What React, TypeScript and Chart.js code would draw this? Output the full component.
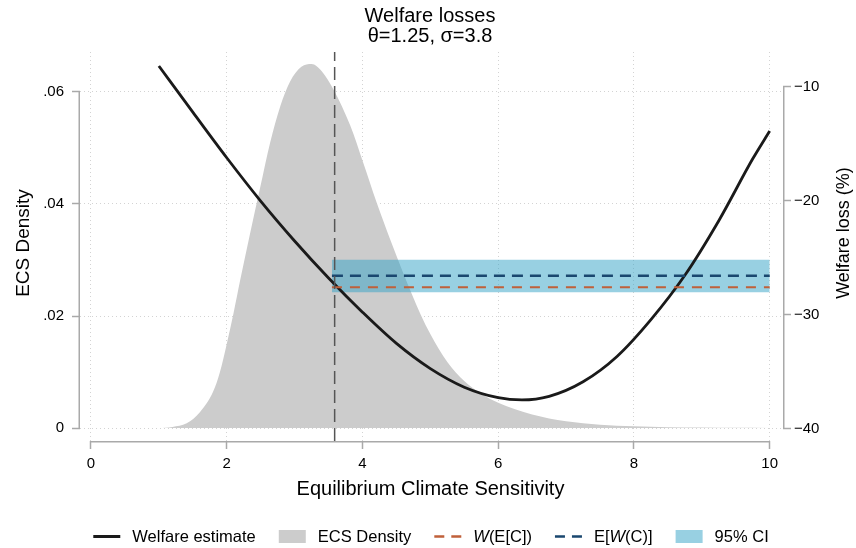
import React, { useEffect, useRef } from "react";
import { Chart, registerables } from "chart.js";

Chart.register(...registerables);

// ---------- data ----------
const densityX = [1.0, 1.2, 1.41, 1.61, 1.8, 1.9, 2.0, 2.1, 2.2, 2.34, 2.49, 2.64, 2.79, 2.93, 3.1, 3.25, 3.4, 3.57, 3.82, 4.01, 4.21, 4.41, 4.6, 4.86, 5.0, 5.25, 5.5, 5.75, 6.0, 6.5, 7.0, 7.5, 8.0, 8.5, 9.0, 9.5, 10.0];
const densityY = [0, 0.0002, 0.00084, 0.0029, 0.0065, 0.01, 0.015, 0.0205, 0.0265, 0.0345, 0.0428, 0.051, 0.0575, 0.0618, 0.0645, 0.065, 0.0637, 0.0605, 0.054, 0.0474, 0.0402, 0.0336, 0.0277, 0.0202, 0.0168, 0.0118, 0.0084, 0.0061, 0.0045, 0.0024, 0.0012, 0.0006, 0.0003, 0.00015, 0.00007, 0.00003, 0.00001];

const welfareX = [1.0, 1.5, 2.0, 2.5, 3.0, 3.5, 4.0, 4.5, 5.0, 5.5, 6.0, 6.35, 6.75, 7.25, 7.75, 8.25, 8.75, 9.25, 9.75, 10.0];
const welfareY = [-8.2, -12.25, -16.25, -20.05, -23.55, -26.8, -29.8, -32.54, -34.75, -36.38, -37.3, -37.5, -37.18, -35.9, -33.68, -30.45, -26.56, -21.77, -16.34, -13.9];

const ciRangeX = [3.55, 10];
const ciUpper = [-25.2, -25.2];
const ciLower = [-28.05, -28.05];
const wOfExpected = [-27.6, -27.6]; // W(E[C])
const expectedOfW = [-26.6, -26.6]; // E[W(C)]
const ecsMean = 3.59;

const xTicks = [0, 2, 4, 6, 8, 10];
const leftTicks = [0, 0.02, 0.04, 0.06];
const rightTicks = [-40, -30, -20, -10];
const xRange = [-0.162, 10.196];
const leftRange = [-0.00232, 0.06714];
const rightRange = [-41.1, -6.97];

const titleLines = ["Welfare losses", "θ=1.25, σ=3.8"];
const xTitle = "Equilibrium Climate Sensitivity";
const leftTitle = "ECS Density";
const rightTitle = "Welfare loss (%)";

// ---------- styles ----------
const FONT = "'Liberation Sans', Arial, Helvetica, sans-serif";
const AXIS_GRAY = "#a9a9a9";
const GRID_COLOR = "rgba(120,120,120,0.33)";
const DENSITY_GRAY = "#cccccc";
const CI_COLOR = "rgba(49,161,197,0.5)";
const ORANGE = "#c0603a";
const NAVY = "#1a476f";
const BLACK = "#1a1a1a";

type Part = { t: string; italic?: boolean };
type LegendItem = { kind: "line" | "box" | "dash"; color: string; parts: Part[] };

const legendItems: LegendItem[] = [
  { kind: "line", color: BLACK, parts: [{ t: "Welfare estimate" }] },
  { kind: "box", color: DENSITY_GRAY, parts: [{ t: "ECS Density" }] },
  { kind: "dash", color: ORANGE, parts: [{ t: "W", italic: true }, { t: "(E[C])" }] },
  { kind: "dash", color: NAVY, parts: [{ t: "E[" }, { t: "W", italic: true }, { t: "(C)]" }] },
  { kind: "box", color: CI_COLOR, parts: [{ t: "95% CI" }] },
];

const pts = (xs: number[], ys: number[]) => xs.map((x, i) => ({ x, y: ys[i] }));

const decorPlugin = {
  id: "decor",
  afterDraw(chart: any) {
    const ctx: CanvasRenderingContext2D = chart.ctx;
    const area = chart.chartArea;
    const sx = chart.scales.x;
    const sl = chart.scales.yL;
    const sr = chart.scales.yR;
    ctx.save();

    // axis lines (Stata-style, spanning the tick range only)
    ctx.strokeStyle = AXIS_GRAY;
    ctx.lineWidth = 1.5;
    ctx.setLineDash([]);
    ctx.beginPath();
    const lx = area.left - 0.75;
    ctx.moveTo(lx, sl.getPixelForValue(leftTicks[leftTicks.length - 1]));
    ctx.lineTo(lx, sl.getPixelForValue(leftTicks[0]));
    const rx = area.right + 0.75;
    ctx.moveTo(rx, sr.getPixelForValue(rightTicks[rightTicks.length - 1]));
    ctx.lineTo(rx, sr.getPixelForValue(rightTicks[0]));
    const by = area.bottom + 0.75;
    ctx.moveTo(sx.getPixelForValue(xTicks[0]), by);
    ctx.lineTo(sx.getPixelForValue(xTicks[xTicks.length - 1]), by);
    ctx.stroke();

    // titles
    ctx.fillStyle = "#000";
    ctx.textAlign = "center";
    ctx.textBaseline = "middle";
    ctx.font = `20px ${FONT}`;
    ctx.fillText(titleLines[0], 430, 16.5);
    ctx.fillText(titleLines[1], 430, 36.5);

    ctx.font = `20px ${FONT}`;
    ctx.fillText(xTitle, 430.5, 489.5);

    ctx.font = `19px ${FONT}`;
    ctx.save();
    ctx.translate(24, 243);
    ctx.rotate(-Math.PI / 2);
    ctx.fillText(leftTitle, 0, 0);
    ctx.restore();
    ctx.font = `18px ${FONT}`;
    ctx.save();
    ctx.translate(844, 233);
    ctx.rotate(-Math.PI / 2);
    ctx.fillText(rightTitle, 0, 0);
    ctx.restore();

    // legend
    const fs = 16.5;
    const symW = 27;
    const symGap = 12;
    const itemGap = 23;
    const fontFor = (p: Part) => `${p.italic ? "italic " : ""}${fs}px ${FONT}`;
    const widths = legendItems.map((it) =>
      it.parts.reduce((s, p) => {
        ctx.font = fontFor(p);
        return s + ctx.measureText(p.t).width;
      }, 0)
    );
    const total = widths.reduce((s, w) => s + symW + symGap + w, 0) + itemGap * (legendItems.length - 1);
    let x = 431 - total / 2;
    const ly = 536.5;
    ctx.textAlign = "left";
    legendItems.forEach((it, i) => {
      if (it.kind === "box") {
        ctx.fillStyle = it.color;
        ctx.fillRect(x, ly - 6.5, symW, 13);
      } else {
        ctx.strokeStyle = it.color;
        ctx.lineWidth = it.kind === "line" ? 3 : 2.5;
        ctx.setLineDash(it.kind === "dash" ? [10, 7] : []);
        ctx.beginPath();
        ctx.moveTo(x, ly);
        ctx.lineTo(x + symW, ly);
        ctx.stroke();
        ctx.setLineDash([]);
      }
      let tx = x + symW + symGap;
      ctx.fillStyle = "#000";
      it.parts.forEach((p) => {
        ctx.font = fontFor(p);
        ctx.fillText(p.t, tx, ly + 0.5);
        tx += ctx.measureText(p.t).width;
      });
      x += symW + symGap + widths[i] + itemGap;
    });
    ctx.restore();
  },
};

const fmtLeft = (v: number) => {
  if (Math.abs(v) < 1e-9) return "0";
  return v.toFixed(2).replace(/^0/, "");
};
const fmtRight = (v: number) => (v < 0 ? "\u2212" + String(Math.abs(v)) : String(v));

export default function App() {
  const ref = useRef<HTMLCanvasElement | null>(null);

  useEffect(() => {
    if (!ref.current) return;
    const gridCommon = {
      color: GRID_COLOR,
      lineWidth: 1,
      tickColor: AXIS_GRAY,
      tickWidth: 1.5,
      tickLength: 8,
    };
    const chart = new Chart(ref.current, {
      type: "line",
      data: {
        datasets: [
          {
            label: "mean",
            data: [
              { x: ecsMean, y: leftRange[0] },
              { x: ecsMean, y: leftRange[1] },
            ],
            xAxisID: "x",
            yAxisID: "yL",
            borderColor: "#555555",
            borderWidth: 1.5,
            borderDash: [13, 6],
            pointRadius: 0,
            fill: false,
            order: 0,
          },
          {
            label: "E[W(C)]",
            data: pts(ciRangeX, expectedOfW),
            xAxisID: "x",
            yAxisID: "yR",
            borderColor: NAVY,
            borderWidth: 2.5,
            borderDash: [11, 7],
            pointRadius: 0,
            fill: false,
            order: 1,
          },
          {
            label: "W(E[C])",
            data: pts(ciRangeX, wOfExpected),
            xAxisID: "x",
            yAxisID: "yR",
            borderColor: ORANGE,
            borderWidth: 2,
            borderDash: [10, 8],
            pointRadius: 0,
            fill: false,
            order: 2,
          },
          {
            label: "Welfare estimate",
            data: pts(welfareX, welfareY),
            xAxisID: "x",
            yAxisID: "yR",
            borderColor: BLACK,
            borderWidth: 2.8,
            pointRadius: 0,
            cubicInterpolationMode: "monotone",
            fill: false,
            order: 3,
          },
          {
            label: "CI upper",
            data: pts(ciRangeX, ciUpper),
            xAxisID: "x",
            yAxisID: "yR",
            borderWidth: 0,
            borderColor: "rgba(0,0,0,0)",
            backgroundColor: CI_COLOR,
            pointRadius: 0,
            fill: "+1",
            order: 4,
          },
          {
            label: "CI lower",
            data: pts(ciRangeX, ciLower),
            xAxisID: "x",
            yAxisID: "yR",
            borderWidth: 0,
            borderColor: "rgba(0,0,0,0)",
            pointRadius: 0,
            fill: false,
            order: 5,
          },
          {
            label: "ECS Density",
            data: pts(densityX, densityY),
            xAxisID: "x",
            yAxisID: "yL",
            borderWidth: 0,
            borderColor: "rgba(0,0,0,0)",
            backgroundColor: DENSITY_GRAY,
            pointRadius: 0,
            cubicInterpolationMode: "monotone",
            fill: "origin",
            order: 6,
          },
        ],
      },
      options: {
        responsive: false,
        animation: false,
        devicePixelRatio: 1,
        events: [],
        layout: { padding: { top: 52, left: 0, right: 0, bottom: 0 }, autoPadding: false },
        plugins: {
          legend: { display: false },
          tooltip: { enabled: false },
          title: { display: false },
        },
        scales: {
          x: {
            type: "linear",
            position: "bottom",
            z: 1,
            min: xRange[0],
            max: xRange[1],
            afterFit: (s: any) => {
              s.height = 107;
            },
            afterBuildTicks: (s: any) => {
              s.ticks = xTicks.map((v) => ({ value: v }));
            },
            grid: { ...gridCommon },
            border: { display: false, dash: [1, 3] },
            ticks: {
              color: "#000",
              font: { family: FONT, size: 15 },
              padding: 6,
              maxRotation: 0,
              autoSkip: false,
              callback: (v: any) => String(v),
            },
          },
          yL: {
            type: "linear",
            position: "left",
            z: 1,
            min: leftRange[0],
            max: leftRange[1],
            afterFit: (s: any) => {
              s.width = 80;
            },
            afterBuildTicks: (s: any) => {
              s.ticks = leftTicks.map((v) => ({ value: v }));
            },
            grid: { ...gridCommon },
            border: { display: false, dash: [1, 3] },
            ticks: {
              color: "#000",
              font: { family: FONT, size: 15 },
              padding: 8,
              autoSkip: false,
              callback: (v: any) => fmtLeft(Number(v)),
            },
          },
          yR: {
            type: "linear",
            position: "right",
            min: rightRange[0],
            max: rightRange[1],
            afterFit: (s: any) => {
              s.width = 73;
            },
            afterBuildTicks: (s: any) => {
              s.ticks = rightTicks.map((v) => ({ value: v }));
            },
            grid: { ...gridCommon, drawOnChartArea: false },
            border: { display: false },
            ticks: {
              color: "#000",
              font: { family: FONT, size: 15 },
              padding: 3,
              autoSkip: false,
              callback: (v: any) => fmtRight(Number(v)),
            },
          },
        },
      },
      plugins: [decorPlugin],
    } as any);
    return () => chart.destroy();
  }, []);

  return (
    <div style={{ position: "absolute", left: 0, top: 0, width: 856, height: 548, background: "#fff" }}>
      <canvas ref={ref} width={856} height={548} style={{ display: "block" }} />
    </div>
  );
}
